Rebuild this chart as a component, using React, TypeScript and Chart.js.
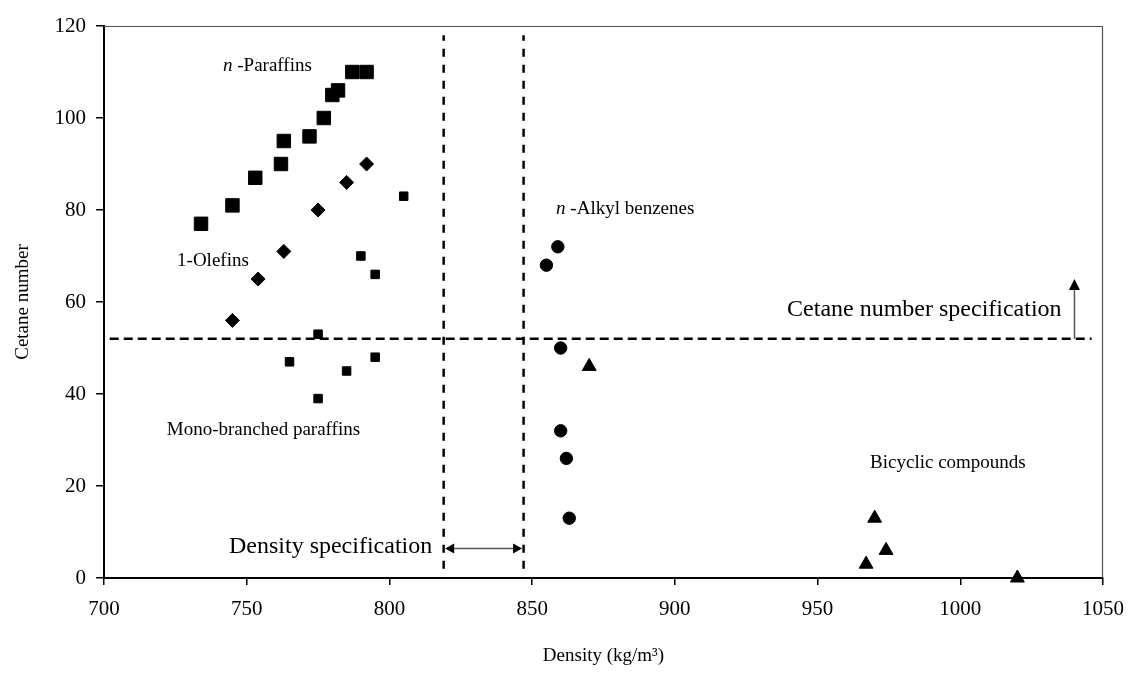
import React, { useEffect, useRef } from 'react';
import { Chart, registerables } from 'chart.js';

Chart.register(...registerables);

// ---- Data (density kg/m3, cetane number) ----
const nParaffinDensity = [734, 745, 753, 762, 763, 772, 777, 780, 782, 787, 792];
const nParaffinCetane = [77, 81, 87, 90, 95, 96, 100, 105, 106, 110, 110];

const olefinDensity = [745, 754, 763, 775, 785, 792];
const olefinCetane = [56, 65, 71, 80, 86, 90];

const monoBranchedDensity = [805, 790, 795, 775, 765, 785, 795, 775];
const monoBranchedCetane = [83, 70, 66, 53, 47, 45, 48, 39];

const alkylBenzeneDensity = [859, 855, 860, 860, 862, 863];
const alkylBenzeneCetane = [72, 68, 50, 32, 26, 13];

const bicyclicDensity = [870, 970, 974, 967, 1020];
const bicyclicCetane = [46, 13, 6, 3, 0];

// Specification limits
const densitySpecLimits = [819, 847];
const densitySpecLineSpan = [2, 118];
const cetaneSpecLimit = 52;
const cetaneSpecLineSpan = [702, 1046];
const cetaneArrowX = 1040;
const cetaneArrowTop = 65;
const densityArrowY = 6.4;

// Axis ticks
const xTickValues = [700, 750, 800, 850, 900, 950, 1000, 1050];
const yTickValues = [0, 20, 40, 60, 80, 100, 120];

const toPoints = (xs: number[], ys: number[]) => xs.map((x, i) => ({ x, y: ys[i] }));

const SERIF = "'Liberation Serif', 'Times New Roman', serif";

const annotationPlugin = {
  id: 'annotations',
  afterDatasetsDraw(chart: any) {
    const { ctx, chartArea, scales } = chart;
    const xs = scales.x;
    const ys = scales.y;
    const px = (v: number) => xs.getPixelForValue(v);
    const py = (v: number) => ys.getPixelForValue(v);
    ctx.save();

    // top & right frame
    ctx.strokeStyle = '#505050';
    ctx.lineWidth = 1.2;
    ctx.beginPath();
    ctx.moveTo(chartArea.left, chartArea.top + 0.5);
    ctx.lineTo(chartArea.right - 0.5, chartArea.top + 0.5);
    ctx.lineTo(chartArea.right - 0.5, chartArea.bottom);
    ctx.stroke();

    // density spec double arrow
    const ay = py(densityArrowY);
    const ax1 = px(densitySpecLimits[0]) + 1.5;
    const ax2 = px(densitySpecLimits[1]) - 1.5;
    const head = 9;
    ctx.strokeStyle = '#555';
    ctx.lineWidth = 1.5;
    ctx.beginPath();
    ctx.moveTo(ax1 + head, ay);
    ctx.lineTo(ax2 - head, ay);
    ctx.stroke();
    ctx.fillStyle = '#000';
    ctx.beginPath();
    ctx.moveTo(ax1, ay);
    ctx.lineTo(ax1 + head, ay - 5);
    ctx.lineTo(ax1 + head, ay + 5);
    ctx.closePath();
    ctx.fill();
    ctx.beginPath();
    ctx.moveTo(ax2, ay);
    ctx.lineTo(ax2 - head, ay - 5);
    ctx.lineTo(ax2 - head, ay + 5);
    ctx.closePath();
    ctx.fill();

    // cetane spec arrow
    const cx = px(cetaneArrowX);
    const cy0 = py(cetaneSpecLimit);
    const cy1 = py(cetaneArrowTop);
    ctx.strokeStyle = '#555';
    ctx.beginPath();
    ctx.moveTo(cx, cy0);
    ctx.lineTo(cx, cy1 + 10);
    ctx.stroke();
    ctx.fillStyle = '#000';
    ctx.beginPath();
    ctx.moveTo(cx, cy1);
    ctx.lineTo(cx - 5.5, cy1 + 11);
    ctx.lineTo(cx + 5.5, cy1 + 11);
    ctx.closePath();
    ctx.fill();

    // labels
    ctx.fillStyle = '#000';
    ctx.textBaseline = 'middle';
    const small = `19px ${SERIF}`;
    const smallItalic = `italic 19px ${SERIF}`;
    const big = `24px ${SERIF}`;

    const drawItalicPrefix = (prefix: string, rest: string, x: number, y: number) => {
      ctx.textAlign = 'left';
      ctx.font = smallItalic;
      ctx.fillText(prefix, x, y);
      const w = ctx.measureText(prefix).width;
      ctx.font = small;
      ctx.fillText(rest, x + w, y);
    };

    drawItalicPrefix('n', ' -Paraffins', px(741.7), py(111.3));
    drawItalicPrefix('n', ' -Alkyl benzenes', px(858.4), py(80.2));

    ctx.font = small;
    ctx.textAlign = 'left';
    ctx.fillText('1-Olefins', px(725.6), py(68.9));
    ctx.fillText('Mono-branched paraffins', px(722), py(32.2));
    ctx.fillText('Bicyclic compounds', px(968.4), py(25));

    ctx.font = big;
    ctx.textAlign = 'right';
    ctx.fillText('Cetane number specification', px(1035.5), py(58.3));
    ctx.fillText('Density specification', px(815), py(6.7));

    ctx.restore();
  },
};

export default function App() {
  const canvasRef = useRef<HTMLCanvasElement | null>(null);

  useEffect(() => {
    document.body.style.margin = '0';
    const canvas = canvasRef.current;
    if (!canvas) return;

    const dashedLine = (data: { x: number; y: number }[], dash: number[]) => ({
      type: 'scatter' as const,
      data,
      showLine: true,
      borderColor: '#000',
      borderWidth: 2.5,
      borderDash: dash,
      pointRadius: 0,
      pointHoverRadius: 0,
      fill: false,
      clip: false as const,
    });

    const markers = (data: any[], style: string, radius: number) => ({
      type: 'scatter' as const,
      data,
      pointStyle: style,
      pointRadius: radius,
      pointHoverRadius: radius,
      backgroundColor: '#000',
      borderColor: '#000',
      borderWidth: 1,
      clip: false as const,
    });

    const chart = new Chart(canvas, {
      type: 'scatter',
      data: {
        datasets: [
          dashedLine(
            cetaneSpecLineSpan.map((x) => ({ x, y: cetaneSpecLimit })),
            [9, 5]
          ),
          dashedLine(
            densitySpecLineSpan.map((y) => ({ x: densitySpecLimits[0], y })),
            [8, 8]
          ),
          dashedLine(
            densitySpecLineSpan.map((y) => ({ x: densitySpecLimits[1], y })),
            [8, 8]
          ),
          markers(toPoints(nParaffinDensity, nParaffinCetane), 'rect', 9.5),
          markers(toPoints(olefinDensity, olefinCetane), 'rectRot', 7),
          markers(toPoints(monoBranchedDensity, monoBranchedCetane), 'rect', 6),
          markers(toPoints(alkylBenzeneDensity, alkylBenzeneCetane), 'circle', 6.2),
          markers(toPoints(bicyclicDensity, bicyclicCetane), 'triangle', 8),
        ] as any,
      },
      options: {
        responsive: false,
        animation: false,
        events: [],
        layout: { padding: { top: 26, right: 28, left: 0, bottom: 0 } },
        plugins: {
          legend: { display: false },
          tooltip: { enabled: false },
        },
        scales: {
          x: {
            type: 'linear',
            min: 700,
            max: 1050,
            afterBuildTicks: (scale: any) => {
              scale.ticks = xTickValues.map((value) => ({ value }));
            },
            afterFit: (scale: any) => {
              scale.height = 97;
              scale.paddingRight = 0;
              scale.paddingLeft = 0;
            },
            ticks: {
              color: '#000',
              font: { family: SERIF, size: 21 },
              padding: 12,
              maxRotation: 0,
              autoSkip: false,
              callback: (value: any) => String(value),
            },
            grid: {
              drawOnChartArea: false,
              drawTicks: true,
              tickLength: 7,
              color: '#000',
              lineWidth: 1.5,
            },
            border: { color: '#000', width: 2 },
            title: {
              display: true,
              text: 'Density (kg/m³)',
              color: '#000',
              font: { family: SERIF, size: 19 },
              padding: { top: 0, bottom: 8 },
            },
          },
          y: {
            type: 'linear',
            min: 0,
            max: 120,
            afterBuildTicks: (scale: any) => {
              scale.ticks = yTickValues.map((value) => ({ value }));
            },
            afterFit: (scale: any) => {
              scale.width = 104;
            },
            ticks: {
              color: '#000',
              font: { family: SERIF, size: 21 },
              padding: 10,
              autoSkip: false,
              callback: (value: any) => String(value),
            },
            grid: {
              drawOnChartArea: false,
              drawTicks: true,
              tickLength: 8,
              color: '#000',
              lineWidth: 1.5,
            },
            border: { color: '#000', width: 2 },
            title: {
              display: true,
              text: 'Cetane number',
              color: '#000',
              font: { family: SERIF, size: 19 },
              padding: { top: 12, bottom: 0 },
            },
          },
        },
      },
      plugins: [annotationPlugin],
    });

    return () => {
      chart.destroy();
    };
  }, []);

  return (
    <div style={{ width: 1131, height: 675 }}>
      <canvas ref={canvasRef} width={1131} height={675} style={{ display: 'block' }} />
    </div>
  );
}
